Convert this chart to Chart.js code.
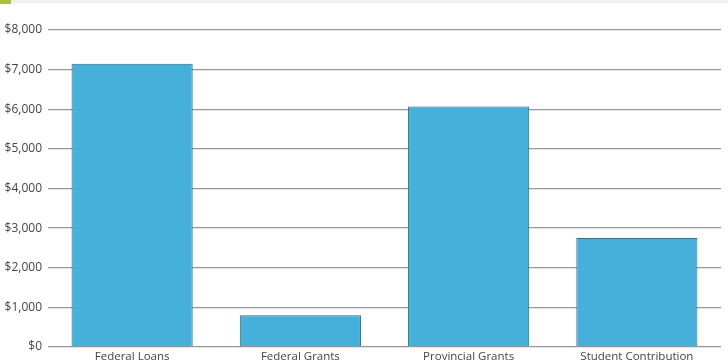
<!DOCTYPE html>
<html><head><meta charset="utf-8">
<script src="https://cdn.jsdelivr.net/npm/chart.js@4"></script>
<style>
html,body{margin:0;padding:0;background:#fff;overflow:hidden;width:728px;height:361px;}
#band{position:absolute;left:0;top:0;width:728px;height:3px;background:#eef0f3;}
#sq{position:absolute;left:0;top:0;width:11px;height:4px;background:#a9c43a;}
#wrap{position:absolute;left:0;top:0;width:728px;height:368px;}
</style></head>
<body>
<div id="wrap"><canvas id="c" width="728" height="368"></canvas></div>
<div id="band"></div><div id="sq"></div>
<script>
const categories = ["Federal Loans", "Federal Grants", "Provincial Grants", "Student Contribution"];
const values = [7150, 800, 6070, 2750];
const yMax = 8000;
const yStep = 1000;

new Chart(document.getElementById('c'), {
  type: 'bar',
  data: {
    labels: categories,
    datasets: [{
      data: values,
      backgroundColor: '#45b1da',
      borderColor: '#2d6a86',
      borderWidth: 1,
      categoryPercentage: 0.72,
      barPercentage: 1.0
    }]
  },
  options: {
    responsive: false,
    animation: false,
    devicePixelRatio: 1,
    layout: { padding: { top: 30, right: 7, left: 0, bottom: 0 } },
    plugins: { legend: { display: false }, tooltip: { enabled: false } },
    scales: {
      x: {
        grid: { display: false, drawTicks: false },
        border: { display: false },
        ticks: { color: '#444', font: { family: 'Open Sans', size: 11.5 }, padding: 3, maxRotation: 0 },
        afterFit: (s) => { s.height = 21; }
      },
      y: {
        min: 0, max: yMax,
        grid: { color: '#969696', lineWidth: 1.3, drawTicks: false },
        border: { display: false },
        ticks: {
          stepSize: yStep,
          color: '#444',
          font: { family: 'Open Sans', size: 12 },
          padding: 6,
          callback: (v) => '$' + v.toLocaleString('en-US')
        },
        afterFit: (s) => { s.width = 48; }
      }
    }
  }
});
</script>
</body></html>
